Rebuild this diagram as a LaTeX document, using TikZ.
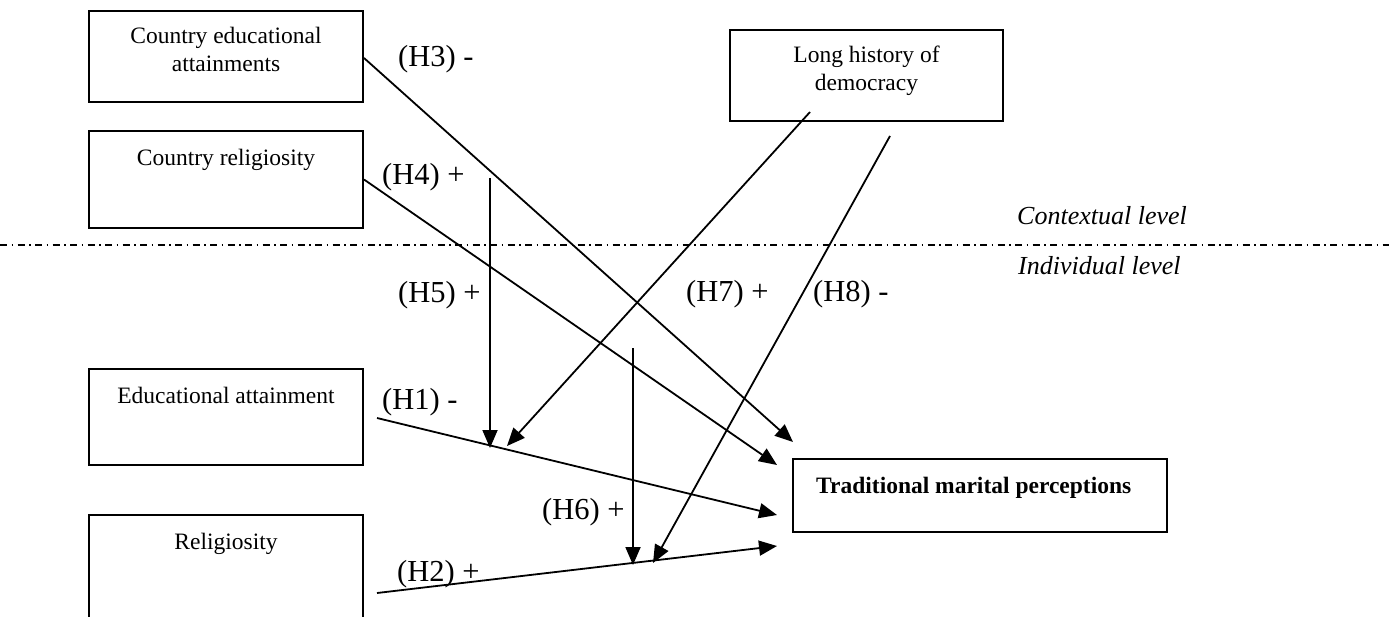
\documentclass[tikz,border=0pt]{standalone}
\usepackage{fontspec}
\setmainfont{Liberation Serif}
\usetikzlibrary{arrows.meta}
\tikzset{
  box/.style={draw, line width=2pt, rectangle, inner sep=0pt},
  boxtext/.style={inner sep=0pt, align=center, font=\fontsize{23.5}{28}\selectfont},
  hlab/.style={inner sep=0pt, anchor=base west, font=\fontsize{30.5}{34}\selectfont},
  lvl/.style={inner sep=0pt, anchor=base west, font=\fontsize{26}{30}\selectfont\itshape},
  conn/.style={line width=1.8pt, -{Triangle[length=18pt,width=15pt]}},
}
\begin{document}
\begin{tikzpicture}[x=1pt,y=-1pt]
\clip (0,0) rectangle (1389,616);
\fill[white] (0,0) rectangle (1389,616);
% boxes
\node[box, minimum width=274pt, minimum height=91pt] (ce) at (226,56.5) {};
\node[box, minimum width=274pt, minimum height=97pt] (cr) at (226,179.5) {};
\node[box, minimum width=273pt, minimum height=91pt] (ld) at (866.5,75.5) {};
\node[box, minimum width=274pt, minimum height=96pt] (ea) at (226,417) {};
\node[box, minimum width=274pt, minimum height=110pt] (re) at (226,570) {};
\node[box, minimum width=374pt, minimum height=73pt] (tm) at (980,495.5) {};
% box texts
\node[boxtext, anchor=north] (cet) at (226,27) {Country educational\\attainments};
\node[boxtext, anchor=base] (crt) at (226,165) {Country religiosity};
\node[boxtext, anchor=north] (ldt) at (866.5,46) {Long history of\\democracy};
\node[boxtext, anchor=base] (eat) at (226,403) {Educational attainment};
\node[boxtext, anchor=base] (ret) at (226,549) {Religiosity};
\node[boxtext, anchor=base west, font=\fontsize{23.5}{28}\selectfont\bfseries] (tmt) at (816,493) {Traditional marital perceptions};
% level line
\coordinate (dl) at (0,245);
\coordinate (dr) at (1389,245);
\draw[line width=1.3pt, dash pattern=on 7pt off 4.5pt on 1.5pt off 4.5pt] (dl) -- (dr);
\node[lvl] (ctx) at (1017,224) {Contextual level};
\node[lvl] (ind) at (1018,274) {Individual level};
% coordinates
\coordinate (t3) at (793,442);
\coordinate (t4) at (777,465);
\coordinate (s1) at (377,418);
\coordinate (t1) at (777,515);
\coordinate (s2) at (377,593);
\coordinate (t2) at (777,546);
\coordinate (s5) at (490,178);
\coordinate (m5) at (490,448);
\coordinate (s7) at (810,112);
\coordinate (m7) at (507,446);
\coordinate (s6) at (633,348);
\coordinate (m6) at (633,565);
\coordinate (s8) at (890,136);
\coordinate (m8) at (653,563);
% connectors
\draw[conn] ([yshift=-1.5pt]ce.east) -- (t3);
\draw[conn] (cr.east) -- (t4);
\draw[conn] (s1) -- (t1);
\draw[conn] (s2) -- (t2);
\draw[conn] (s5) -- (m5);
\draw[conn] (s7) -- (m7);
\draw[conn] (s6) -- (m6);
\draw[conn] (s8) -- (m8);
% labels
\node[hlab] (l3) at (398,66) {(H3) -};
\node[hlab] (l4) at (382,184) {(H4) +};
\node[hlab] (l5) at (398,302) {(H5) +};
\node[hlab] (l7) at (686,301) {(H7) +};
\node[hlab] (l8) at (813,301) {(H8) -};
\node[hlab] (l1) at (382,409) {(H1) -};
\node[hlab] (l6) at (542,519) {(H6) +};
\node[hlab] (l2) at (397,581) {(H2) +};
\end{tikzpicture}
\end{document}
